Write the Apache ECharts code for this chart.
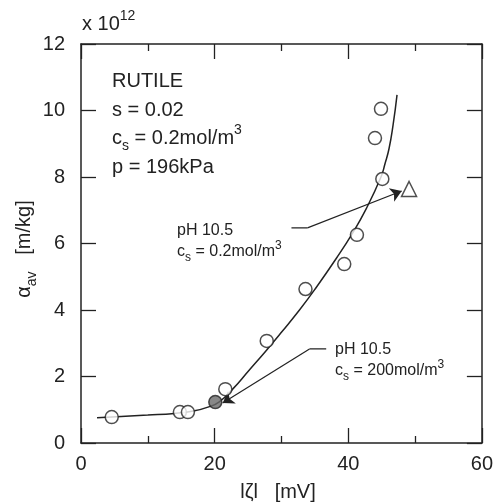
<!DOCTYPE html>
<html>
<head>
<meta charset="utf-8">
<script src="https://cdn.jsdelivr.net/npm/echarts@6/dist/echarts.min.js"></script>
<style>html,body{margin:0;padding:0;background:#fff}#c{width:496px;height:504px}</style>
</head>
<body>
<div id="c"></div>
<script>
// ---- data ----
const xTicks = [0, 20, 40, 60];
const yTicks = [0, 2, 4, 6, 8, 10, 12];
const zetaOpen  = [4.6, 14.8, 16.0, 21.6, 27.8, 33.6, 39.4, 41.3, 45.1, 44.0, 44.9];
const alphaOpen = [0.78, 0.93, 0.93, 1.62, 3.07, 4.63, 5.38, 6.26, 7.94, 9.17, 10.05];
const zetaFilled  = [20.1];
const alphaFilled = [1.23];
const zetaTri  = [49.1];
const alphaTri = [7.64];
const fitZeta  = [2.4, 6, 10, 14, 17, 19, 20.7, 22.7, 25, 27.8, 30, 32.7, 35, 38.2, 40.6, 42.7, 44.9, 45.5, 46.1, 46.7, 47.3];
const fitAlpha = [0.76, 0.8, 0.84, 0.89, 0.97, 1.08, 1.24, 1.62, 2.15, 2.8, 3.33, 4.0, 4.62, 5.55, 6.3, 7.05, 8.0, 8.4, 8.85, 9.55, 10.47];
// annotation leader lines (data coordinates): stub start, stub end, arrow tip
const lead1Zeta  = [31.5, 33.9, 48.0];
const lead1Alpha = [6.47, 6.47, 7.58];
const lead2Zeta  = [36.7, 34.2, 21.2];
const lead2Alpha = [2.83, 2.83, 1.2];

const pairs = (xs, ys) => xs.map((x, i) => [x, ys[i]]);
const INK = '#222';
const FONT = 'Liberation Sans, Arial, Helvetica, sans-serif';

const chart = echarts.init(document.getElementById('c'), null, {renderer: 'canvas'});

const axisCommon = {
  type: 'value', min: 0,
  axisLine: {show: true, onZero: false, lineStyle: {color: INK, width: 1.5}},
  axisTick: {show: true, inside: true, length: 15, lineStyle: {color: INK, width: 1.3}},
  splitLine: {show: false}
};

const rich = {
  m:   {fontSize: 20, fontFamily: FONT, color: INK, lineHeight: 30, verticalAlign: 'middle'},
  sub: {fontSize: 14, fontFamily: FONT, color: INK, lineHeight: 30, verticalAlign: 'bottom'},
  sup: {fontSize: 14, fontFamily: FONT, color: INK, lineHeight: 30, verticalAlign: 'top'},
  a:   {fontSize: 16, fontFamily: FONT, color: INK, lineHeight: 24, verticalAlign: 'middle'},
  asub:{fontSize: 12, fontFamily: FONT, color: INK, lineHeight: 24, verticalAlign: 'bottom'},
  asup:{fontSize: 12, fontFamily: FONT, color: INK, lineHeight: 24, verticalAlign: 'top'}
};

function txt(left, cy, text, rot) {
  return {
    type: 'text', x: left, y: cy, rotation: rot || 0, z: 100,
    style: {text: text, rich: rich, fill: INK, font: '20px ' + FONT, verticalAlign: 'middle', align: rot ? 'center' : 'left'}
  };
}

const option = {
  animation: false,
  backgroundColor: '#fff',
  grid: {left: 81, right: 14, top: 44, bottom: 61},
  xAxis: [
    Object.assign({}, axisCommon, {
      position: 'bottom', max: 60, interval: 20,
      minorTick: {show: true, splitNumber: 2, length: 7, lineStyle: {color: INK, width: 1.3}},
      axisLabel: {show: true, margin: 11, fontSize: 20, fontFamily: FONT, color: INK,
        customValues: xTicks}
    }),
    Object.assign({}, axisCommon, {
      position: 'top', max: 60, interval: 20,
      minorTick: {show: true, splitNumber: 2, length: 7, lineStyle: {color: INK, width: 1.3}},
      axisLabel: {show: false}
    })
  ],
  yAxis: [
    Object.assign({}, axisCommon, {
      position: 'left', max: 12, interval: 2,
      axisLabel: {show: true, margin: 16, fontSize: 20, fontFamily: FONT, color: INK,
        customValues: yTicks}
    }),
    Object.assign({}, axisCommon, {
      position: 'right', max: 12, interval: 2,
      axisLabel: {show: false}
    })
  ],
  series: [
    {
      type: 'line', data: pairs(fitZeta, fitAlpha), smooth: 0.5, showSymbol: false,
      lineStyle: {color: INK, width: 1.5}, z: 2, silent: true
    },
    {
      type: 'line', data: pairs(lead1Zeta.slice(0, 2), lead1Alpha.slice(0, 2)), showSymbol: false,
      lineStyle: {color: INK, width: 1.2}, z: 2, silent: true
    },
    {
      type: 'line', data: pairs(lead2Zeta.slice(0, 2), lead2Alpha.slice(0, 2)), showSymbol: false,
      lineStyle: {color: INK, width: 1.2}, z: 2, silent: true
    },
    {
      type: 'lines', coordinateSystem: 'cartesian2d', z: 2, silent: true,
      symbol: ['none', 'arrow'], symbolSize: [6, 11],
      lineStyle: {color: INK, width: 1.2, opacity: 1},
      data: [
        {coords: [[lead1Zeta[1], lead1Alpha[1]], [lead1Zeta[2], lead1Alpha[2]]]},
        {coords: [[lead2Zeta[1], lead2Alpha[1]], [lead2Zeta[2], lead2Alpha[2]]]}
      ]
    },
    {
      type: 'scatter', data: pairs(zetaOpen, alphaOpen), symbol: 'circle', symbolSize: 13,
      itemStyle: {color: '#fff', borderColor: INK, borderWidth: 1.5}, z: 5
    },
    {
      type: 'scatter', data: pairs(zetaFilled, alphaFilled), symbol: 'circle', symbolSize: 13,
      itemStyle: {color: '#6a6a6a', borderColor: INK, borderWidth: 1.5}, z: 5
    },
    {
      type: 'scatter', data: pairs(zetaTri, alphaTri), symbol: 'triangle', symbolSize: 15,
      itemStyle: {color: '#fff', borderColor: INK, borderWidth: 1.5}, z: 5
    }
  ],
  graphic: [
    txt(82, 24, '{m|x 10}{sup|12}'),
    txt(112, 81, '{m|RUTILE}'),
    txt(112, 110, '{m|s = 0.02}'),
    txt(112, 138, '{m|c}{sub|s}{m| = 0.2mol/m}{sup|3}'),
    txt(112, 167, '{m|p = 196kPa}'),
    txt(177, 231, '{a|pH 10.5}'),
    txt(177, 252, '{a|c}{asub|s}{a| = 0.2mol/m}{asup|3}'),
    txt(335, 350, '{a|pH 10.5}'),
    txt(335, 371, '{a|c}{asub|s}{a| = 200mol/m}{asup|3}'),
    txt(24, 249, '{m|α}{sub|av}{m|   [m/kg]}', Math.PI / 2),
    txt(278, 492, '{m|lζl   [mV]}', 0.0001)
  ]
};
chart.setOption(option);
</script>
</body>
</html>
